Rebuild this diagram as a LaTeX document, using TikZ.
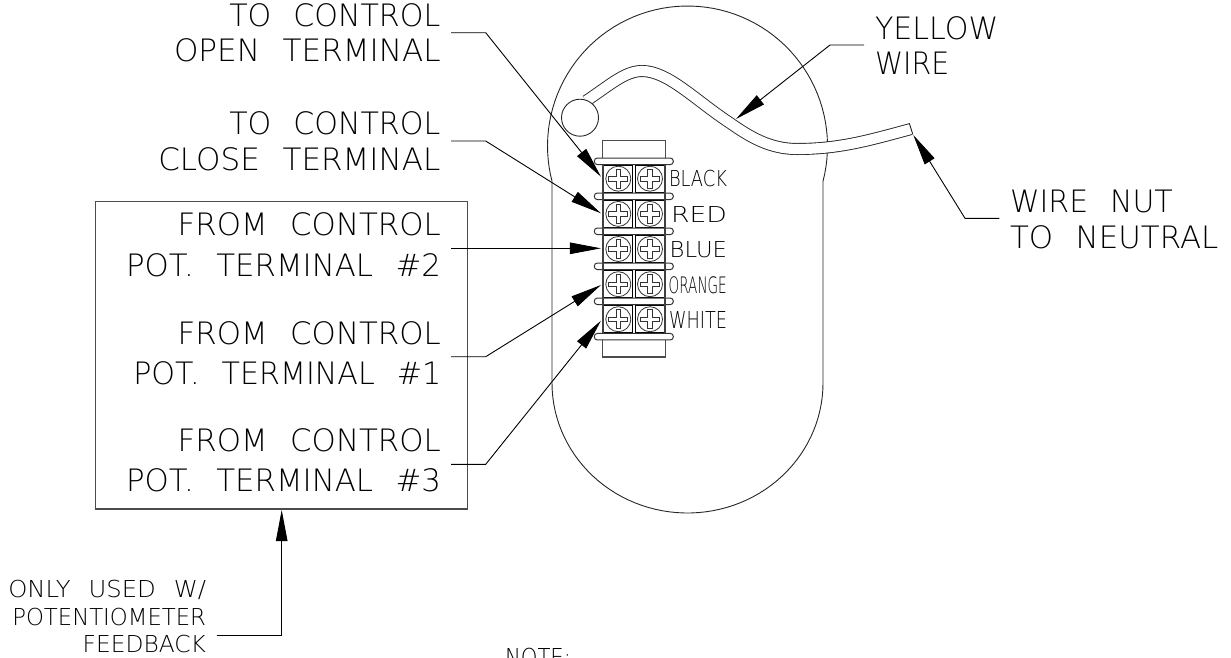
\documentclass[tikz,border=0pt]{standalone}
\usepackage{fontspec}
\usepackage{graphicx}
\usetikzlibrary{arrows.meta}
\setmainfont{DejaVu Sans ExtraLight}[WordSpace=2.3]
\newcommand\fitcap[3]{\resizebox{#1pt}{#2pt}{\raisebox{0pt}[\fontcharht\font`H][0pt]{#3}}}
\tikzset{
  line/.style={line width=0.9pt,draw=black!85},
  outline/.style={line width=1.1pt,draw=black!70},
  leader/.style={line width=0.9pt,draw=black,-{Triangle[length=31pt,width=11.5pt]}},
  txt/.style={anchor=north west,inner sep=0pt,outer sep=0pt,text=black,font=\fontsize{20}{22}\selectfont},
  cell/.style={draw=black,line width=1.1pt,minimum width=29pt,minimum height=27.5pt,inner sep=0pt},
  bar/.style={draw=black!80,fill=white,line width=1pt,rounded corners=3pt,minimum width=79pt,minimum height=6.5pt,inner sep=0pt},
  screw/.style={circle,draw=black!80,line width=0.8pt,minimum size=25pt,inner sep=0pt},
  pics/plusmark/.style={code={\draw[line width=0.8pt,draw=black!80] (-2.3,-9.5)--(2.3,-9.5)--(2.3,-2.3)--(9.5,-2.3)--(9.5,2.3)--(2.3,2.3)--(2.3,9.5)--(-2.3,9.5)--(-2.3,2.3)--(-9.5,2.3)--(-9.5,-2.3)--(-2.3,-2.3)--cycle;}}
}
\begin{document}
\begin{tikzpicture}[x=1pt,y=-1pt]
\useasboundingbox (0,0) rectangle (1231,657);
% housing
\draw[line]
  plot[domain=-14.5:194.5,samples=70] ({687.5+140*cos(\x)},{146-140*sin(\x)})
  -- plot[domain=180:360,samples=60] ({687.5+135.5*cos(\x)},{383-130*sin(\x)})
  -- cycle;
% wire
\draw[line width=12pt,draw=black!85,line cap=butt]
  (586,101) .. controls (610,85) and (625,71) .. (642,71) .. controls (668,71) and (695,100) .. (730,123) .. controls (750,137) and (770,149) .. (797,149) .. controls (840,149) and (870,140) .. (911,129);
\draw[line width=10.2pt,draw=white,line cap=butt]
  (586,101) .. controls (610,85) and (625,71) .. (642,71) .. controls (668,71) and (695,100) .. (730,123) .. controls (750,137) and (770,149) .. (797,149) .. controls (840,149) and (870,140) .. (911,129);
\node[circle,draw=black!85,fill=white,line width=0.9pt,minimum size=37pt,inner sep=0pt] (wireend) at (580,117.7) {};
\coordinate (nutA) at (909.3,123.3);
\coordinate (nutB) at (912.7,134);
\draw[line] (nutA) -- (nutB);
% terminal block
\draw[outline] (602.7,140.7) rectangle (665.3,357);
\foreach \i/\yy in {1/178.7,2/213.9,3/249,4/284.2,5/319.2}{
  \node[cell,fill=white] (tl\i) at (618.3,\yy) {};
  \node[cell,fill=white] (tr\i) at (650,\yy) {};
  \node[screw] (sl\i) at (618.3,\yy) {};
  \node[screw] (sr\i) at (650,\yy) {};
  \pic at (618.3,\yy) {plusmark};
  \pic at (650,\yy) {plusmark};
}
\foreach \i/\yy in {1/161.3,2/196.3,3/231.3,4/266.3,5/301.3,6/336.7}{
  \node[bar] (bar\i) at (633.8,\yy) {};
}
\draw[line width=2pt,draw=black!75] (603.2,165) -- (603.2,332.5);
\draw[line width=2pt,draw=black!75] (665,165) -- (665,332.5);
% terminal names
\node[txt] (lblack) at (669,170.7) {\fitcap{58}{16}{BLACK}};
\node[txt] (lred) at (671,206) {\fitcap{56}{16}{RED}};
\node[txt] (lblue) at (669.7,241.7) {\fitcap{57.3}{16}{BLUE}};
\node[txt] (lorange) at (668.7,276.7) {\fitcap{58}{16.5}{ORANGE}};
\node[txt] (lwhite) at (669,311) {\fitcap{58}{17}{WHITE}};
% left labels
\node[txt] (a1) at (229.3,4) {\fitcap{211}{22.5}{TO CONTROL}};
\node[txt] (a2) at (174,39.3) {\fitcap{266.5}{22.5}{OPEN TERMINAL}};
\node[txt] (b1) at (229.3,111.7) {\fitcap{211}{22.5}{TO CONTROL}};
\node[txt] (b2) at (158.3,147.7) {\fitcap{282}{22.5}{CLOSE TERMINAL}};
\draw[outline] (95.7,201.7) rectangle (467.7,509);
\node[txt] (c1) at (177.7,213.3) {\fitcap{263}{22.5}{FROM CONTROL}};
\node[txt] (c2) at (126,254) {\fitcap{315}{22.5}{POT. TERMINAL \#2}};
\node[txt] (d1) at (177.7,321.7) {\fitcap{263}{22.5}{FROM CONTROL}};
\node[txt] (d2) at (133.3,361.7) {\fitcap{308}{22.5}{POT. TERMINAL \#1}};
\node[txt] (e1) at (177.7,429.3) {\fitcap{263}{22.5}{FROM CONTROL}};
\node[txt] (e2) at (126,469.3) {\fitcap{315}{22.5}{POT. TERMINAL \#3}};
% right labels
\node[txt] (y1) at (875,16.7) {\fitcap{123.3}{22.5}{YELLOW}};
\node[txt] (y2) at (875,51.7) {\fitcap{74.3}{22.5}{WIRE}};
\node[txt] (n1) at (1010,190) {\fitcap{162.7}{22.5}{WIRE NUT}};
\node[txt] (n2) at (1010,225.7) {\fitcap{208.3}{22.5}{TO NEUTRAL}};
% bottom labels
\node[txt] (f1) at (8.3,580.7) {\fitcap{197.7}{17}{ONLY USED W/}};
\node[txt] (f2) at (12.3,608) {\fitcap{193.7}{17}{POTENTIOMETER}};
\node[txt] (f3) at (82.7,635.5) {\fitcap{123.3}{17}{FEEDBACK}};
\node[txt] (note) at (505,648) {\fitcap{66}{18}{NOTE:}};
% leaders
\coordinate (s1) at (451,32.7);   \coordinate (k1) at (485.7,32.7);
\coordinate (s2) at (451,141);    \coordinate (k2) at (485.7,141);
\coordinate (s3) at (451,248.3);
\coordinate (s4) at (451,356.7);  \coordinate (k4) at (485.7,356.7);
\coordinate (s5) at (451,464.3);  \coordinate (k5) at (485.7,464.3);
\coordinate (t1) at ([xshift=-2.3pt,yshift=2pt]tl1.west);
\coordinate (t2) at ([xshift=-2.3pt,yshift=0.6pt]tl2.west);
\coordinate (t3) at ([xshift=-2.3pt,yshift=0.7pt]tl3.west);
\coordinate (t4) at ([xshift=-2.3pt,yshift=-0.8pt]tl4.west);
\coordinate (t5) at ([xshift=-2.3pt,yshift=-1.5pt]tl5.west);
\draw[leader] (s1) -- (k1) -- (t1);
\draw[leader] (s2) -- (k2) -- (t2);
\draw[leader] (s3) -- (t3);
\draw[leader] (s4) -- (k4) -- (t4);
\draw[leader] (s5) -- (k5) -- (t5);
\coordinate (sy) at (864,45); \coordinate (ky) at (830,45); \coordinate (ty) at (736,119);
\draw[leader] (sy) -- (ky) -- (ty);
\coordinate (sn) at (999.3,218.3); \coordinate (kn) at (965,218.3); \coordinate (tn) at (913.3,135);
\draw[leader] (sn) -- (kn) -- (tn);
\coordinate (sf) at (216.7,635); \coordinate (kf) at (281.7,635); \coordinate (tf) at (281.7,510);
\draw[leader] (sf) -- (kf) -- (tf);
\end{tikzpicture}
\end{document}
